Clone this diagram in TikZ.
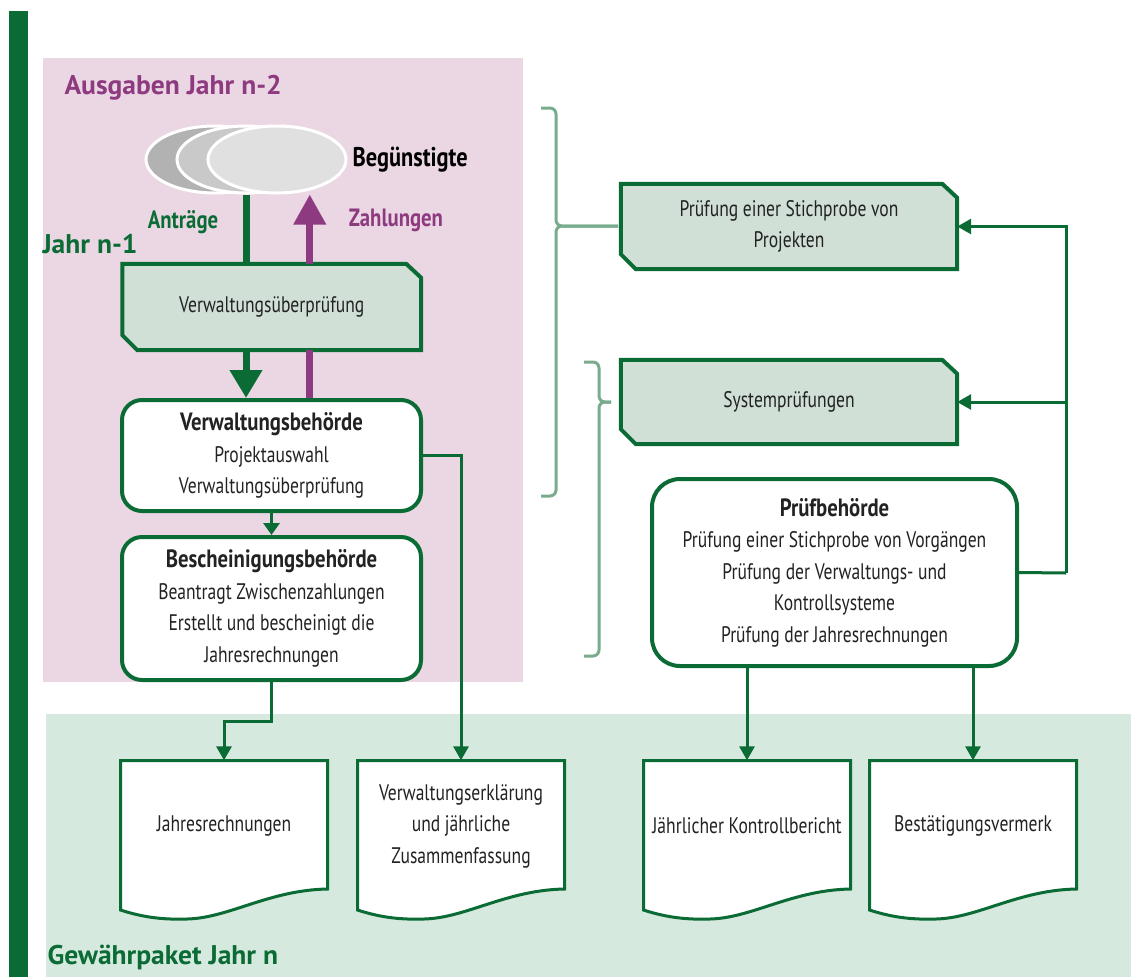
\documentclass[tikz,border=0pt]{standalone}
\usepackage{fontspec}
\setmainfont{PT Sans}[FakeStretch=0.78]
\newfontfamily\headfont{PT Sans}[FakeStretch=1.02]
\newfontfamily\bcond{PT Sans}[FakeStretch=0.83]
\usetikzlibrary{shapes.geometric,arrows.meta,calc}
\definecolor{dgreen}{HTML}{0B6B35}
\definecolor{purp}{HTML}{8E3A80}
\definecolor{pinkbg}{HTML}{EAD7E3}
\definecolor{greenbg}{HTML}{D6E9DE}
\definecolor{boxfill}{HTML}{D0E0D6}
\definecolor{bracec}{HTML}{78AC8C}
\definecolor{txtc}{HTML}{222222}
\pgfdeclarelayer{bgA}\pgfdeclarelayer{bgB}
\pgfsetlayers{bgA,bgB,main}
\newcommand\bt[1]{{\bcond\bfseries\fontsize{25}{31.5}\selectfont #1}}
\tikzset{
  txt/.style={font=\fontsize{22.5}{31.5}\selectfont, align=center, text=txtc},
  rbox/.style={txt, draw=dgreen, line width=4pt, fill=white, rounded corners=20pt, inner sep=0pt},
  plainbox/.style={txt, inner sep=0pt},
  chfill/.style={draw=dgreen, line width=4pt, fill=boxfill},
  docline/.style={draw=dgreen, line width=3pt, fill=white},
  conn/.style={draw=dgreen, line width=3pt, -{Triangle[width=15pt,length=14pt]}},
  plainconn/.style={draw=dgreen, line width=3pt},
  gthick/.style={draw=dgreen, line width=7pt},
  pthick/.style={draw=purp, line width=7pt},
  bracestyle/.style={draw=bracec, line width=3pt, rounded corners=6pt},
  ell/.style={ellipse, draw=white, line width=3pt, minimum width=138pt, minimum height=67pt, inner sep=0pt},
  headlbl/.style={font=\headfont\bfseries\fontsize{27}{32}\selectfont},
  smlbl/.style={font=\bcond\bfseries\fontsize{25}{30}\selectfont},
}
\newcommand\chamferbox[1]{%
  \begin{pgfonlayer}{bgB}
  \filldraw[chfill] (#1.north west) -- ([xshift=-15pt]#1.north east) -- ([yshift=-14pt]#1.north east)
     -- (#1.south east) -- ([xshift=15pt]#1.south west) -- ([yshift=15pt]#1.south west) -- cycle;
  \end{pgfonlayer}}
\newcommand\docbox[3]{%
  \node[plainbox, minimum width=207pt, minimum height=131pt] (#1) at (#2+105,826) {#3};
  \begin{pgfonlayer}{bgB}
  \filldraw[docline] (#2+1.5,760.5) -- (#2+208.5,760.5) -- (#2+208.5,889)
    .. controls (#2+150,890) and (#2+110,918) .. (#2+68,919)
    .. controls (#2+40,920) and (#2+20,916) .. (#2+1.5,910) -- cycle;
  \end{pgfonlayer}}
\begin{document}
\begin{tikzpicture}[x=1pt,y=-1pt]
\useasboundingbox (0,0) rectangle (1131,977);
\begin{pgfonlayer}{bgA}
  \fill[white] (0,0) rectangle (1131,977);
  \fill[pinkbg] (43,58) rectangle (523,682);
  \fill[greenbg] (46,714) rectangle (1131,977);
  \fill[dgreen] (9,11) rectangle (27.5,977);
\end{pgfonlayer}

% labels
\node[headlbl, text=purp, anchor=west] (lA) at (61,88) {Ausgaben Jahr n-2};
\node[headlbl, text=dgreen, anchor=west] (lB) at (39,244) {Jahr n-1};
\node[headlbl, text=dgreen, anchor=west] (lC) at (44,957) {Gewährpaket Jahr n};
\node[smlbl, text=dgreen] (lD) at (183,222) {Anträge};
\node[smlbl, text=purp] (lE) at (396,220) {Zahlungen};

% beneficiaries
\node[ell, fill=black!30] (e1) at (215,159.5) {};
\node[ell, fill=black!21] (e2) at (246,159.5) {};
\node[ell, fill=black!12] (e3) at (277,159.5) {};
\node[font=\bcond\bfseries\fontsize{27}{30}\selectfont, text=black, anchor=west] (ben) at (349,160) {Begünstigte};

% left column
\node[plainbox, minimum width=298.5pt, minimum height=86pt] (vu) at (271.75,307) {Verwaltungsüberprüfung};
\chamferbox{vu}
\node[rbox, minimum width=299pt, minimum height=111pt] (vb) at (271.5,455.5)
  {\bt{Verwaltungsbehörde}\\Projektauswahl\\Verwaltungsüberprüfung};
\node[rbox, minimum width=299pt, minimum height=143pt] (bb) at (271.5,608.5)
  {\bt{Bescheinigungsbehörde}\\Beantragt Zwischenzahlungen\\Erstellt und bescheinigt die\\Jahresrechnungen};

% right column
\node[plainbox, minimum width=336pt, minimum height=85pt] (sp1) at (789,226.5) {Prüfung einer Stichprobe von\\Projekten};
\chamferbox{sp1}
\node[plainbox, minimum width=336pt, minimum height=84pt] (sp2) at (789,402) {Systemprüfungen};
\chamferbox{sp2}
\node[rbox, rounded corners=28pt, minimum width=365pt, minimum height=187pt] (pb) at (834.5,572.5)
  {\bt{Prüfbehörde}\\Prüfung einer Stichprobe von Vorgängen\\Prüfung der Verwaltungs- und\\Kontrollsysteme\\Prüfung der Jahresrechnungen};

% documents
\docbox{d1}{119}{Jahresrechnungen}
\docbox{d2}{356}{Verwaltungserklärung\\und jährliche\\Zusammenfassung}
\docbox{d3}{642}{Jährlicher Kontrollbericht}
\docbox{d4}{868}{Bestätigungsvermerk}

% thick arrows between beneficiaries and checks
\draw[gthick] (e2.south) -- (e2.south |- vu.north);
\draw[pthick, -{Triangle[width=31pt,length=30pt]}] ([xshift=38pt]vu.north) -- ([xshift=38pt]vu.north |- e3.south);
\draw[gthick, -{Triangle[width=31pt,length=28pt]}] (e2.south |- vu.south) -- (e2.south |- vb.north);
\draw[pthick] ([xshift=38pt]vb.north) -- ([xshift=38pt]vb.north |- vu.south);
\draw[draw=dgreen, line width=3pt, -{Triangle[width=16pt,length=12pt]}] (vb.south) -- (bb.north);

% connectors to documents
\draw[conn] (bb.south) -- ++(0,39) -| (d1.north);
\draw[conn] (vb.east) -| (d2.north);
\draw[conn] (d3.north |- pb.south) -- (d3.north);
\draw[conn] (d4.north |- pb.south) -- (d4.north);

% feedback from audit authority
\coordinate (fb) at (1066,573);
\draw[plainconn] (pb.east) -- (fb);
\draw[conn] (fb) |- (sp1.east);
\draw[conn] (fb) |- (sp2.east);

% brackets
\draw[bracestyle] (541,108) -- (556,108) -- (556,226) -- (618,226);
\draw[bracestyle] (618,226) -- (556,226) -- (556,496) -- (541,496);
\draw[bracestyle] (584,362) -- (599,362) -- (599,402) -- (611,402);
\draw[bracestyle] (611,402) -- (599,402) -- (599,656) -- (584,656);
\end{tikzpicture}
\end{document}
